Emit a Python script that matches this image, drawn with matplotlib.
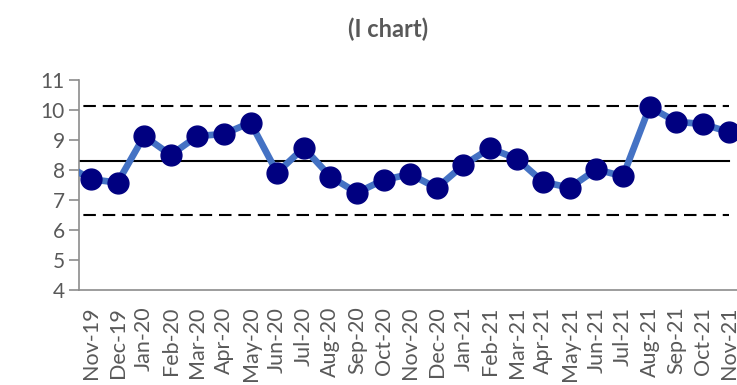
import matplotlib
matplotlib.use("Agg")
import matplotlib.pyplot as plt
import numpy as np

# monthly individual values (Oct-19 sits just outside the plotted range)
months = ["Oct-19", "Nov-19", "Dec-19", "Jan-20", "Feb-20", "Mar-20", "Apr-20",
          "May-20", "Jun-20", "Jul-20", "Aug-20", "Sep-20", "Oct-20", "Nov-20",
          "Dec-20", "Jan-21", "Feb-21", "Mar-21", "Apr-21", "May-21", "Jun-21",
          "Jul-21", "Aug-21", "Sep-21", "Oct-21", "Nov-21"]
values = [8.2, 7.69, 7.58, 9.13, 8.5, 9.13, 9.2, 9.58, 7.91, 8.74, 7.78, 7.24,
          7.67, 7.86, 7.4, 8.16, 8.72, 8.38, 7.6, 7.41, 8.02, 7.79, 10.1, 9.61,
          9.53, 9.26]

# control limits
center = 8.31
ucl = 10.13
lcl = 6.5

grey = "#595959"
plt.rcParams["font.family"] = ["Lato", "DejaVu Sans"]

fig = plt.figure(figsize=(7.37, 3.85), dpi=100)
ax = fig.add_axes([0.1068, 0.2468, 0.9023, 0.5455])

x = np.arange(len(months))
n = len(months)

ax.plot(x, [center] * n, color="black", lw=1.5, zorder=2)
ax.plot(x, [ucl] * n, color="black", lw=1.5, dashes=(6.0, 3.3), zorder=2)
ax.plot(x, [lcl] * n, color="black", lw=1.5, dashes=(6.0, 3.3), zorder=2)
ax.plot(x, values, color="#4472C4", lw=4.8, marker="o", markersize=15,
        markerfacecolor="#000080", markeredgecolor="#000080", zorder=3)

ax.set_yticks(range(4, 12))
ax.set_xticks(x)
ax.set_xticklabels(months, rotation=90, va="top", ha="center")
# limits after the ticks so the first month stays clipped off
ax.set_xlim(0.54, 25.54)
ax.set_ylim(4, 11)

for s in ["top", "right"]:
    ax.spines[s].set_visible(False)
for s in ["left", "bottom"]:
    ax.spines[s].set_color("#8c8c8c")
    ax.spines[s].set_linewidth(1.2)

ax.tick_params(axis="y", length=7, width=1.2, color="#8c8c8c",
               labelsize=15, labelcolor=grey, pad=3)
ax.tick_params(axis="x", length=0, labelsize=15.5, labelcolor=grey, pad=12)

fig.text(0.527, 0.925, "(I chart)", ha="center", va="center",
         fontsize=17, fontweight="bold", color=grey)

fig.savefig("out.png", dpi=100)
